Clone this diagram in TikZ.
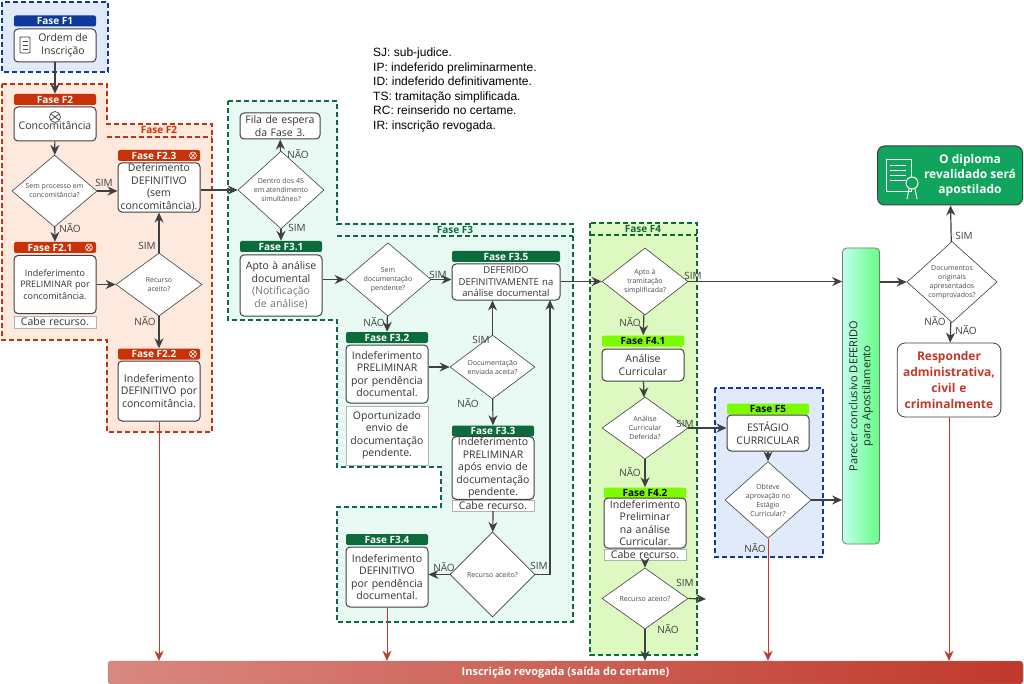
\documentclass[tikz,border=0pt]{standalone}
\usepackage{fontspec}
\setmainfont{Open Sans}
\newfontfamily\arial{Liberation Sans}
\usetikzlibrary{shapes.geometric,arrows.meta}
\definecolor{cF1}{HTML}{0D3A9A}
\definecolor{cF2}{HTML}{C8320A}
\definecolor{cF3}{HTML}{0B6B3A}
\definecolor{cF4}{HTML}{7CFC00}
\definecolor{gF2}{HTML}{FDE9DE}
\definecolor{gF3}{HTML}{E8FAF3}
\definecolor{gF4}{HTML}{DDF8C0}
\definecolor{gF5}{HTML}{E0EAFA}
\definecolor{ln}{HTML}{404040}
\definecolor{rd}{HTML}{C0392B}
\definecolor{dip}{HTML}{10A45C}
\begin{document}
\begin{tikzpicture}[x=1pt,y=-1pt,
  nohy/.style={execute at begin node={\hyphenpenalty=10000\exhyphenpenalty=10000}},
  hdr/.style={rounded corners=2pt,minimum width=82,minimum height=11,inner sep=0pt,font=\fontsize{10}{11}\selectfont\bfseries,text=white},
  box/.style={nohy,draw=ln,line width=1pt,rounded corners=4pt,fill=white,minimum width=82,inner sep=1pt,text width=78,align=center,font=\fontsize{10.5}{12.5}\selectfont,text=black!80},
  note/.style={nohy,draw=black!30,fill=white,minimum width=82,inner sep=1pt,text width=78,align=center,font=\fontsize{10.5}{12.5}\selectfont,text=black!80},
  dia/.style={diamond,draw=ln,line width=0.6pt,fill=white,inner sep=0pt,align=center,font=\fontsize{7}{9}\selectfont,text=black!70},
  reg/.style={line width=2.2pt,dash pattern=on 5pt off 3pt},
  arr/.style={draw=ln,line width=1.2pt,-{Stealth[length=10pt,width=9pt]}},
  rarr/.style={draw=rd,line width=0.9pt,-{Stealth[length=10pt,width=9pt]}},
  ox/.style={white,line width=0.6pt},
  lb/.style={font=\fontsize{10}{11}\selectfont,text=black!75,inner sep=1pt}]
\useasboundingbox (0,0) rectangle (1024,684);
\fill[white] (0,0) rectangle (1024,684);
% regions
\draw[reg,draw=cF1,fill=gF5] (2,2) rectangle (108,72);
\draw[reg,draw=cF2,fill=gF2] (2,84)--(107,84)--(107,124)--(212,124)--(212,432)--(107,432)--(107,340)--(2,340)--cycle;
\draw[reg,draw=cF2] (107,137)--(212,137);
\node[text=cF2,font=\fontsize{10}{11}\selectfont\bfseries] at (159,130) {Fase F2};
\draw[reg,draw=cF3,fill=gF3] (228,101)--(337,101)--(337,224)--(573,224)--(573,622)--(337,622)--(337,507)--(441,507)--(441,467)--(337,467)--(337,320)--(228,320)--cycle;
\draw[reg,draw=cF3] (337,236)--(573,236);
\node[text=cF3,font=\fontsize{10}{11}\selectfont\bfseries] at (455,230) {Fase F3};
\draw[reg,draw=cF3,fill=gF4] (590,223) rectangle (697,655);
\draw[reg,draw=cF3] (590,235)--(697,235);
\node[text=cF3,font=\fontsize{10}{11}\selectfont\bfseries] at (643,229) {Fase F4};
\draw[reg,draw=cF1,fill=gF5] (715,388) rectangle (823,557);
% legend
\node[anchor=north west,align=left,font=\arial\fontsize{12}{14.5}\selectfont,inner sep=0] (leg) at (373,48) {SJ: sub-judice.\\IP: indeferido preliminarmente.\\ID: indeferido definitivamente.\\TS: tramitação simplificada.\\RC: reinserido no certame.\\IR: inscrição revogada.};
% F1
\node[hdr,fill=cF1] (h1) at (55,21) {Fase F1};
\node[box,minimum height=33] (b1) at (55,45.5) {};
\node[align=center,font=\fontsize{10.5}{12.5}\selectfont,text=black!80,inner sep=0] (t1) at (63,45.5) {Ordem de\\Inscrição};
\draw[ln,line width=0.8pt,rounded corners=1pt] (20,37) rectangle (30,53);
\foreach \yy in {41,45,49} \draw[ln,line width=0.6pt] (22.5,\yy)--(27.5,\yy);
% F2
\node[hdr,fill=cF2] (h2) at (55,99.5) {Fase F2};
\node[box,minimum height=34] (b2) at (55,124) {\\[-2pt]Concomitância};
\draw[ln,line width=0.7pt] (55,117) circle (5.5);
\draw[ln,line width=0.7pt] (51,114)--(59,120) (51,120)--(59,114);
\node[dia,minimum width=85,minimum height=62] (d1) at (54.5,191) {Sem processo em\\concomitância?};
\node[hdr,fill=cF2] (h23) at (159,155.5) {Fase F2.3\hspace*{10pt}};
\draw[ox] (193,155.5) circle (3.5) (191,153.5)--(195,157.5) (191,157.5)--(195,153.5);
\node[box,minimum height=49] (b23) at (159,187.5) {Deferimento DEFINITIVO (sem concomitância).};
\node[hdr,fill=cF2] (h21) at (55,247.5) {Fase F2.1\hspace*{10pt}};
\draw[ox] (89,247.5) circle (3.5) (87,245.5)--(91,249.5) (87,249.5)--(91,245.5);
\node[box,minimum height=58,anchor=north,font=\fontsize{9}{11.5}\selectfont] (b21) at (55,255) {Indeferimento PRELIMINAR por concomitância.\\[14pt]};
\node[note,minimum height=12] (c21) at (55,322) {Cabe recurso.};
\node[dia,minimum width=86,minimum height=63] (r2) at (159,284.5) {Recurso\\aceito?};
\node[hdr,fill=cF2] (h22) at (159,354) {Fase F2.2\hspace*{10pt}};
\draw[ox] (193,354) circle (3.5) (191,352)--(195,356) (191,356)--(195,352);
\node[box,minimum height=60] (b22) at (159,391) {Indeferimento DEFINITIVO por concomitância.};
% F3
\node[box,minimum height=26,minimum width=80,text width=76] (fila) at (280,126) {Fila de espera da Fase 3.};
\node[dia,minimum width=86,minimum height=64] (d3) at (281,190) {Dentro dos 45\\em atendimento\\simultâneo?};
\node[hdr,fill=cF3] (h31) at (281,246.5) {Fase F3.1};
\node[box,minimum height=61] (b31) at (281,285.5) {Apto à análise documental\\{\color{black!55}(Notificação de análise)}};
\node[dia,minimum width=86,minimum height=61] (d4) at (388,279.5) {Sem\\documentação\\pendente?};
\node[hdr,fill=cF3,minimum width=108] (h35) at (506,256.5) {Fase F3.5};
\node[box,minimum height=36,minimum width=108,text width=106,font=\fontsize{9.5}{11.5}\selectfont] (b35) at (506,282) {DEFERIDO\\DEFINITIVAMENTE na análise documental};
\node[hdr,fill=cF3] (h32) at (387,337.5) {Fase F3.2};
\node[box,minimum height=58] (b32) at (387,374) {Indeferimento PRELIMINAR por pendência documental.};
\node[note,minimum height=59] (n32) at (387,435.5) {Oportunizado envio de documentação pendente.};
\node[dia,minimum width=85,minimum height=60] (d5) at (492.5,367) {Documentação\\enviada aceita?};
\node[hdr,fill=cF3] (h33) at (493,431) {Fase F3.3};
\node[box,minimum height=62] (b33) at (493,468) {Indeferimento PRELIMINAR após envio de documentação pendente.};
\node[note,minimum height=11] (c33) at (493,505.5) {Cabe recurso.};
\node[dia,minimum width=85,minimum height=85] (r3) at (492.5,574.5) {Recurso aceito?};
\node[hdr,fill=cF3] (h34) at (387,539.5) {Fase F3.4};
\node[box,minimum height=60] (b34) at (387,577) {Indeferimento DEFINITIVO por pendência documental.};
% F4
\node[dia,minimum width=86,minimum height=61] (d6) at (645,281.5) {Apto à\\tramitação\\simplificada?};
\node[hdr,fill=cF4,text=black] (h41) at (643,341) {Fase F4.1};
\node[box,minimum height=32] (b41) at (643,365) {Análise Curricular};
\node[dia,minimum width=86,minimum height=62] (d7) at (645,428) {Análise\\Curricular\\Deferida?};
\node[hdr,fill=cF4,text=black] (h42) at (645,493) {Fase F4.2};
\node[box,minimum height=50] (b42) at (645,523) {Indeferimento Preliminar na análise Curricular.};
\node[note,minimum height=11] (c42) at (645,555) {Cabe recurso.};
\node[dia,minimum width=86,minimum height=61] (d8) at (645,598.5) {Recurso aceito?};
\coordinate (e8) at (706,599);
% F5
\node[hdr,fill=cF4,text=black] (h5) at (768,409) {Fase F5};
\node[box,minimum height=36] (b5) at (768,433) {ESTÁGIO CURRICULAR};
\node[dia,minimum width=86,minimum height=62] (d9) at (768,500) {Obteve\\aprovação no\\Estágio\\Curricular?};
% right side
\node[draw=ln!70,line width=0.8pt,rounded corners=4pt,left color=green!30!cyan!25,right color=green!80!cyan!60,minimum width=37,minimum height=296,inner sep=0] (bar) at (861,396) {};
\node[rotate=90,align=center,font=\fontsize{11}{13}\selectfont,text=black!85] at (bar.center) {Parecer conclusivo DEFERIDO\\para Apostilamento};
\node[dia,minimum width=90,minimum height=64] (d10) at (952,282) {Documentos\\originais\\apresentados\\comprovados?};
\node[draw=ln,line width=1pt,rounded corners=7pt,fill=dip,minimum width=145,minimum height=59] (dipl) at (950,175.5) {};
\node[align=center,text=white,font=\fontsize{12}{15}\selectfont\bfseries,inner sep=0] (tdip) at (970,175.5) {O diploma\\revalidado será\\apostilado};
\begin{scope}[white,line width=1pt]
\draw (886,160) rectangle (911,192);
\foreach \yy in {166,171,176,181} \draw (890,\yy)--(906,\yy);
\draw[fill=dip] (912,183) circle (6);
\draw (909,189)--(907,199) (915,189)--(917,199);
\end{scope}
\node[nohy,draw=ln,line width=0.8pt,rounded corners=8pt,fill=white,minimum width=99,minimum height=74,text width=97,align=center,text=rd,font=\fontsize{12}{16}\selectfont\bfseries] (resp) at (949,380) {Responder administrativa, civil e criminalmente};
\node[draw=ln!60,rounded corners=3pt,left color=rd!60,right color=rd,minimum width=915,minimum height=23,inner sep=0,text=white,font=\fontsize{11}{12}\selectfont\bfseries] (ir) at (565.5,672.5) {Inscrição revogada (saída do certame)};
% connectors
\draw[arr] (b1)--(h2);
\draw[arr] (b2)--(d1);
\draw[arr] (d1.east)--(b23.west|-d1.east);
\draw[arr] (d1)--(h21);
\draw[arr] (b21.east|-r2.west)--(r2.west);
\draw[arr] (r2)--(b23);
\draw[arr] (r2)--(h22);
\draw[arr] (b23.east|-d3.west)--(d3.west);
\draw[arr] (d3)--(fila);
\draw[arr] (d3)--(h31);
\draw[arr] (b31.east|-d4.west)--(d4.west);
\draw[arr] (d4.east)--(b35.west|-d4.east);
\draw[arr] (d4)--(h32);
\draw[arr] (b32.east|-d5.west)--(d5.west);
\draw[arr] (d5)--(b35.south-|d5);
\draw[arr] (d5)--(h33);
\draw[arr] (c33)--(r3);
\draw[arr] (r3.west)--(b34.east|-r3.west);
\draw[arr] (r3.east)--(550,574.5)--(550,300);
\draw[arr] (b35.east|-d6.west)--(d6.west);
\draw[arr] (d6.east)--(bar.west|-d6.east);
\draw[arr] (d6)--(h41);
\draw[arr] (b41)--(d7);
\draw[arr] (d7.east)--(b5.west|-d7.east);
\draw[arr] (d7)--(h42);
\draw[arr] (c42)--(d8);
\draw[arr] (d8.east)--(e8);
\draw[arr] (d8.south)--(ir.north-|d8.south);
\draw[arr] (b5)--(d9);
\draw[arr] (d9.east)--(bar.west|-d9.east);
\draw[arr] (bar.east|-d10.west)--(d10.west);
\draw[arr] (d10)--(dipl);
\draw[arr] (d10)--(resp);
\draw[rarr] (b22.south)--(ir.north-|b22.south);
\draw[rarr] (b34.south)--(ir.north-|b34.south);
\draw[rarr] (d9.south)--(ir.north-|d9.south);
\draw[rarr] (resp.south)--(ir.north-|resp.south);
% labels
\node[lb] at (104,183) {SIM};
\node[lb] at (70,228) {NÃO};
\node[lb] at (147,246) {SIM};
\node[lb] at (145,321) {NÃO};
\node[lb] at (298,154) {NÃO};
\node[lb] at (297,228) {SIM};
\node[lb] at (438,275) {SIM};
\node[lb] at (374,322) {NÃO};
\node[lb] at (481,340) {SIM};
\node[lb] at (468,403) {NÃO};
\node[lb] at (444,567) {NÃO};
\node[lb] at (539,566) {SIM};
\node[lb] at (693,276) {SIM};
\node[lb] at (630,322) {NÃO};
\node[lb] at (685,424) {SIM};
\node[lb] at (630,472) {NÃO};
\node[lb] at (685,583) {SIM};
\node[lb] at (668,629) {NÃO};
\node[lb] at (755,548) {NÃO};
\node[lb] at (964,236) {SIM};
\node[lb] at (935,321) {NÃO};
\node[lb] at (966,330) {NÃO};
\end{tikzpicture}
\end{document}
